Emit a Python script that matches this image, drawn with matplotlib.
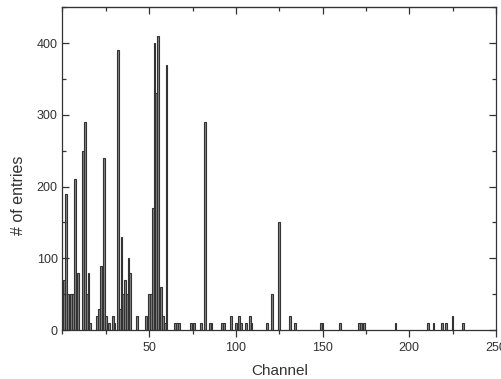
import matplotlib
matplotlib.use("Agg")
import matplotlib.pyplot as plt
from matplotlib.ticker import MultipleLocator

plt.rcParams['font.family'] = ['Liberation Sans', 'DejaVu Sans']

# Channel histogram: channel numbers and entry counts
channels = [1, 2, 3, 4, 5, 6, 7, 8, 9, 12, 13, 14, 15, 16, 20,
            21, 22, 24, 25, 27, 29, 30, 32, 33, 34, 35, 36, 37, 38, 39,
            43, 48, 49, 50, 51, 52, 53, 54, 55, 56, 57, 58, 59, 60,
            65, 66, 67, 74, 76, 80, 82, 85, 86, 92, 93, 97, 100, 102, 103,
            106, 108, 109, 118, 121, 125, 131, 134, 149, 150, 160, 171, 172,
            174, 192, 211, 214, 219, 221, 225, 231]
entries = [70, 190, 50, 20, 50, 50, 210, 20, 80, 250, 290, 50, 80, 10, 20,
           30, 90, 240, 20, 10, 20, 10, 390, 30, 130, 50, 70, 50, 100, 80,
           20, 20, 10, 50, 50, 170, 400, 330, 410, 20, 60, 20, 10, 370,
           10, 10, 10, 10, 10, 10, 290, 10, 10, 10, 10, 20, 10, 20, 10,
           10, 20, 10, 10, 50, 150, 20, 10, 10, 10, 10, 10, 10,
           10, 10, 10, 10, 10, 10, 20, 10]

x_major = [50, 100, 150, 200, 250]
y_major = [0, 100, 200, 300, 400]

fig = plt.figure(figsize=(5.02, 3.79), dpi=100)
ax = fig.add_axes([0.1245, 0.129, 0.8635, 0.852])

ax.bar(channels, entries, width=1.0, align='center',
       facecolor='#858585', edgecolor='#333333', linewidth=0.8)

ax.set_xlim(0, 250)
ax.set_ylim(0, 450)
ax.set_xticks(x_major)
ax.set_yticks(y_major)
ax.xaxis.set_minor_locator(MultipleLocator(25))
ax.yaxis.set_minor_locator(MultipleLocator(50))

for s in ax.spines.values():
    s.set_color('#333333')
    s.set_linewidth(0.9)

ax.tick_params(axis='x', which='both', direction='out', top=False,
               colors='#333333', labelcolor='#333333', labelsize=9, width=0.9)
ax.tick_params(axis='x', which='major', length=5)
ax.tick_params(axis='x', which='minor', length=3)
ax.tick_params(axis='y', which='both', direction='in', right=True,
               colors='#333333', labelcolor='#333333', labelsize=9, width=0.9)
ax.tick_params(axis='y', which='major', length=5)
ax.tick_params(axis='y', which='minor', length=3)

# Inward ticks along the top edge
secx = ax.secondary_xaxis('top')
secx.set_xticks(x_major)
secx.xaxis.set_minor_locator(MultipleLocator(25))
secx.tick_params(axis='x', which='both', direction='in', labeltop=False,
                 colors='#333333', width=0.9)
secx.tick_params(axis='x', which='major', length=5)
secx.tick_params(axis='x', which='minor', length=3)
secx.spines['top'].set_color('#333333')

ax.set_xlabel('Channel', fontsize=11, color='#333333')
ax.set_ylabel('# of entries', fontsize=11.5, color='#333333')
ax.xaxis.set_label_coords(0.502, -0.105)
ax.yaxis.set_label_coords(-0.084, 0.418)

fig.savefig('out.png', dpi=100)
